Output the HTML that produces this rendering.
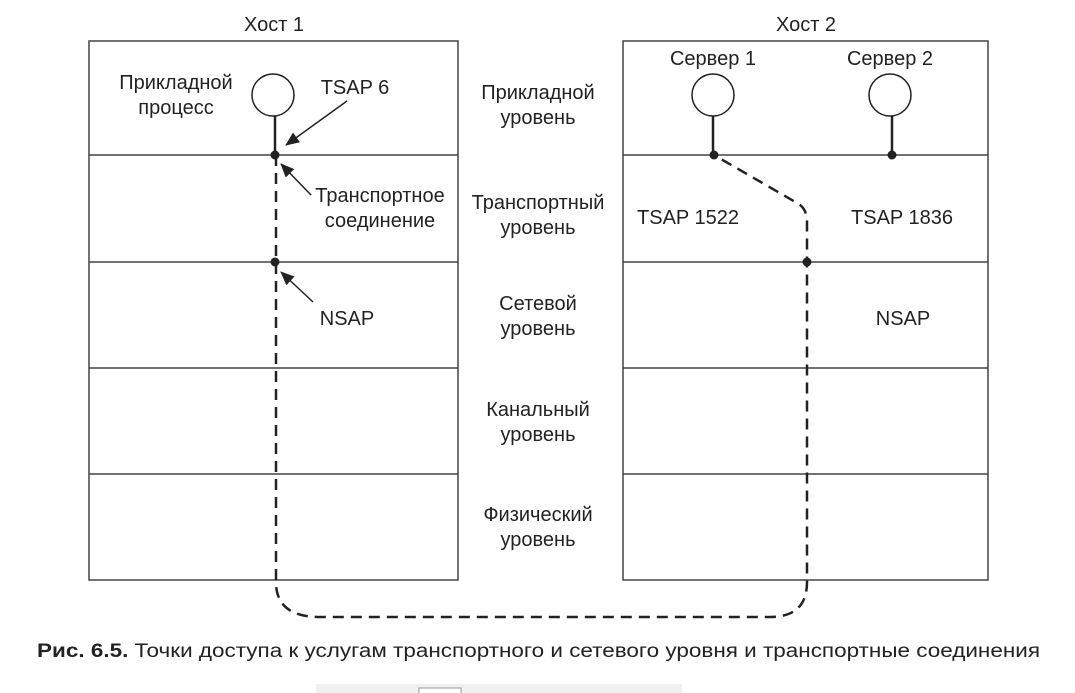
<!DOCTYPE html>
<html><head><meta charset="utf-8"><style>
html,body{margin:0;padding:0;background:#fff;width:1075px;height:693px;overflow:hidden}
svg text{font-family:"Liberation Sans",sans-serif;fill:#222}
</style></head><body>
<svg width="1075" height="693" viewBox="0 0 1075 693">
<defs><marker id="ah" markerWidth="10" markerHeight="10" refX="9" refY="5" orient="auto" markerUnits="userSpaceOnUse"><path d="M0,0 L10,5 L0,10 z" fill="#222"/></marker>
<marker id="a" viewBox="0 0 14 12" markerWidth="14" markerHeight="12" refX="13" refY="6" orient="auto" markerUnits="userSpaceOnUse"><path d="M0,0 L14,6 L0,12 z" fill="#222"/></marker></defs>
<g stroke="#444" stroke-width="1.5" fill="none">
<rect x="89" y="41" width="369" height="539"/>
<rect x="623" y="41" width="365" height="539"/>
<line x1="89" y1="155" x2="458" y2="155"/><line x1="89" y1="262" x2="458" y2="262"/><line x1="89" y1="368" x2="458" y2="368"/><line x1="89" y1="474" x2="458" y2="474"/>
<line x1="623" y1="155" x2="988" y2="155"/><line x1="623" y1="262" x2="988" y2="262"/><line x1="623" y1="368" x2="988" y2="368"/><line x1="623" y1="474" x2="988" y2="474"/>
</g>
<g stroke="#222" stroke-width="1.5" fill="#fff">
<circle cx="273" cy="95" r="21"/><circle cx="713" cy="95" r="21"/><circle cx="890" cy="95" r="21"/>
</g>
<g stroke="#222" stroke-width="2.5">
<line x1="275" y1="116" x2="275" y2="155"/><line x1="713" y1="116" x2="713" y2="155"/><line x1="892" y1="116" x2="892" y2="155"/>
</g>
<path d="M276,155 L276,582 Q276,617 320,617 L770,617 Q807,617 807,582 L807,222 Q807,208 797,203 L714,155" stroke="#222" stroke-width="2.5" fill="none" stroke-dasharray="11,7"/>
<g fill="#222"><circle cx="275" cy="155" r="4.5"/><circle cx="275" cy="262" r="4.5"/><circle cx="714" cy="155" r="4.5"/><circle cx="892" cy="155" r="4.5"/><circle cx="807" cy="262" r="4.5"/></g>
<g stroke="#222" stroke-width="1.5">
<line x1="347" y1="101" x2="286" y2="145" marker-end="url(#a)"/>
<line x1="311" y1="195" x2="281" y2="164" marker-end="url(#a)"/>
<line x1="313" y1="302" x2="281" y2="272" marker-end="url(#a)"/>
</g>
<g font-size="20" text-anchor="middle">
<text x="274" y="31">Хост 1</text><text x="806" y="31">Хост 2</text>
<text x="176" y="89">Прикладной</text><text x="176" y="114">процесс</text>
<text x="355" y="94">TSAP 6</text>
<text x="380" y="202">Транспортное</text><text x="380" y="227">соединение</text>
<text x="347" y="325">NSAP</text>
<text x="538" y="99">Прикладной</text><text x="538" y="124">уровень</text>
<text x="538" y="209">Транспортный</text><text x="538" y="234">уровень</text>
<text x="538" y="310">Сетевой</text><text x="538" y="335">уровень</text>
<text x="538" y="416">Канальный</text><text x="538" y="441">уровень</text>
<text x="538" y="521">Физический</text><text x="538" y="546">уровень</text>
<text x="713" y="65">Сервер 1</text><text x="890" y="65">Сервер 2</text>
<text x="688" y="224">TSAP 1522</text><text x="902" y="224">TSAP 1836</text>
<text x="903" y="325">NSAP</text>
</g>
<text x="37" y="657" font-size="19" textLength="1003" lengthAdjust="spacingAndGlyphs"><tspan font-weight="bold">Рис. 6.5.</tspan> Точки доступа к услугам транспортного и сетевого уровня и транспортные соединения</text>
<rect x="316" y="684" width="366" height="9" fill="#f0f0f0"/>
<rect x="419" y="688" width="42" height="8" fill="#fff" stroke="#999" stroke-width="1"/>
</svg>
</body></html>
